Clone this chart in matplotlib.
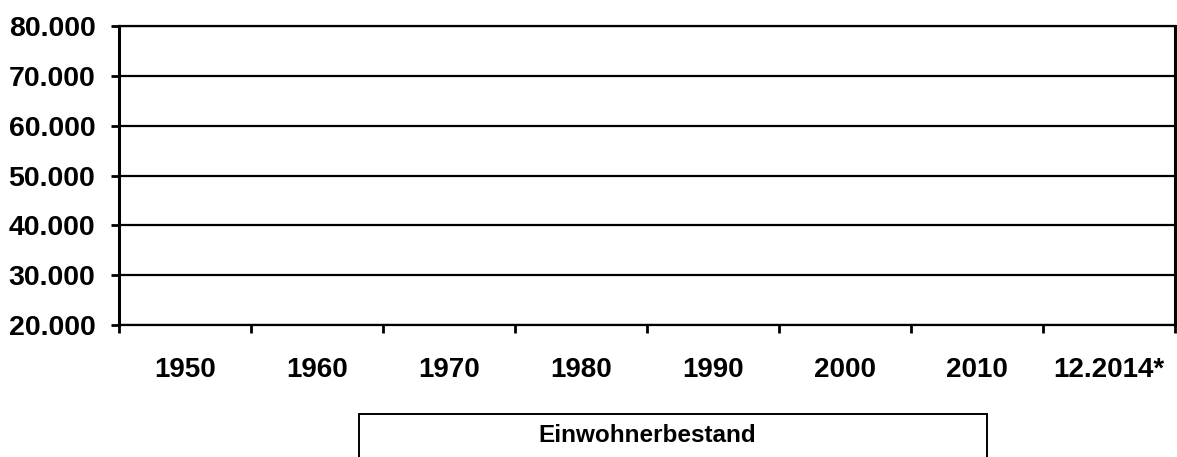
import numpy as np
import matplotlib
matplotlib.use("Agg")
import matplotlib.pyplot as plt
from matplotlib.patches import Rectangle
from matplotlib.ticker import FuncFormatter, FixedLocator

categories = ["1950", "1960", "1970", "1980", "1990", "2000", "2010", "12.2014*"]
# No bars are visible in the reference: the series values are absent
einwohnerbestand = [np.nan] * len(categories)
series_label = "Einwohnerbestand"
y_ticks = [20000, 30000, 40000, 50000, 60000, 70000, 80000]

plt.rcParams['font.family'] = ['Liberation Sans', 'DejaVu Sans']
plt.rcParams['font.weight'] = 'bold'

fig = plt.figure(figsize=(11.77, 4.57), dpi=100)
ax = fig.add_axes([119/1177, 132/457, 1056/1177, 299/457])

x = np.arange(len(categories))
ax.bar(x, einwohnerbestand, width=0.6, color="#4f81bd", label=series_label)

ax.set_xlim(-0.5, len(categories) - 0.5)
ax.set_ylim(y_ticks[0], y_ticks[-1])
ax.set_yticks(y_ticks)
ax.yaxis.set_major_formatter(FuncFormatter(lambda v, p: f"{int(v):,}".replace(",", ".")))
ax.set_xticks(x)
ax.set_xticklabels(categories)
ax.xaxis.set_minor_locator(FixedLocator(np.arange(-0.5, len(categories), 1.0)))

ax.tick_params(axis='x', which='major', length=0, pad=23, labelsize=20)
ax.tick_params(axis='x', which='minor', length=6, width=2, direction='out', color='black')
ax.tick_params(axis='y', which='major', length=6, width=2, direction='out', pad=11, labelsize=20.5)

for v in y_ticks:
    ax.axhline(v, color='black', lw=1.6, zorder=1)

for side in ['left', 'right']:
    ax.spines[side].set_linewidth(2.2)
ax.spines['top'].set_linewidth(1.6)
ax.spines['bottom'].set_linewidth(1.6)

# legend box (clipped at bottom of figure as in reference)
rect = Rectangle((359/1177, -0.05), 628/1177, 0.05 + 43/457, transform=fig.transFigure,
                 facecolor='white', edgecolor='black', lw=1.4)
fig.patches.append(rect)
fig.text(647/1177, 21/457, series_label, ha='center', va='center', fontsize=17.5, fontweight='bold')

fig.savefig("out.png", dpi=100)
